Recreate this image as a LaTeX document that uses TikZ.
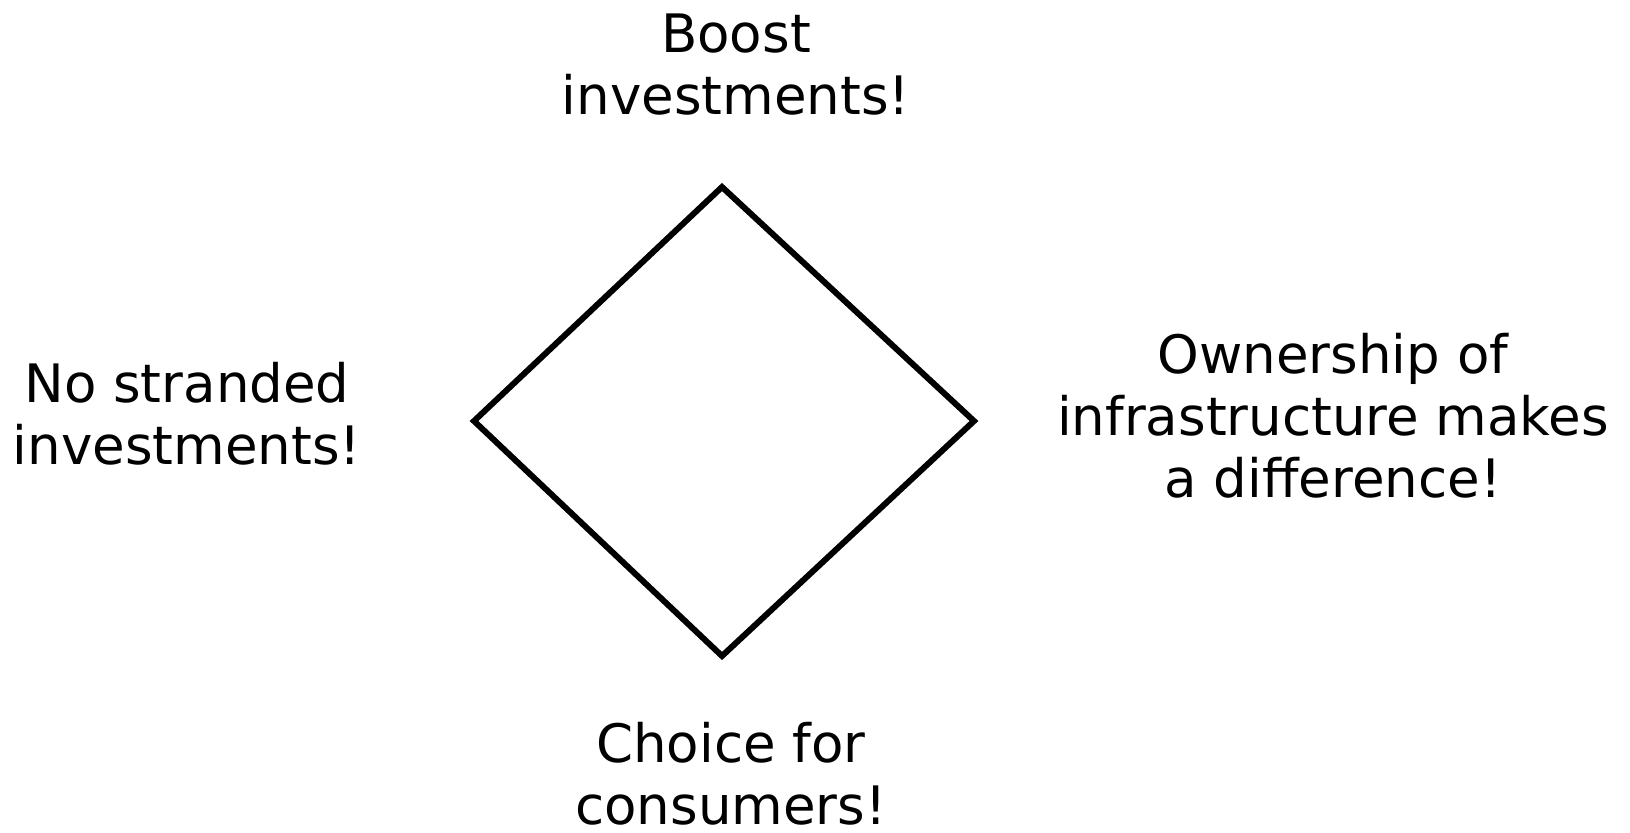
\documentclass[tikz,border=0pt]{standalone}
\usepackage{fontspec}
\setmainfont{DejaVu Sans}
\begin{document}
\begin{tikzpicture}[x=0.5pt,y=-0.5pt,
  lbl/.style={align=center,font=\fontsize{26.5}{31}\selectfont,inner sep=0pt,anchor=center},
  frame/.style={line width=3pt,line join=miter}]
\useasboundingbox (0,0) rectangle (1630,832);
\coordinate (t) at (722,187);
\coordinate (l) at (474,421);
\coordinate (r) at (974,421);
\coordinate (b) at (722,656);
\draw[frame] (t) -- (r) -- (b) -- (l) -- cycle;
\node[lbl] (top) at (736,65) {Boost\\investments!};
\node[lbl] (left) at (187,414) {No stranded\\investments!};
\node[lbl] (right) at (1333,416) {Ownership of\\infrastructure makes\\a difference!};
\node[lbl] (bottom) at (731,774) {Choice for\\consumers!};
\end{tikzpicture}
\end{document}
